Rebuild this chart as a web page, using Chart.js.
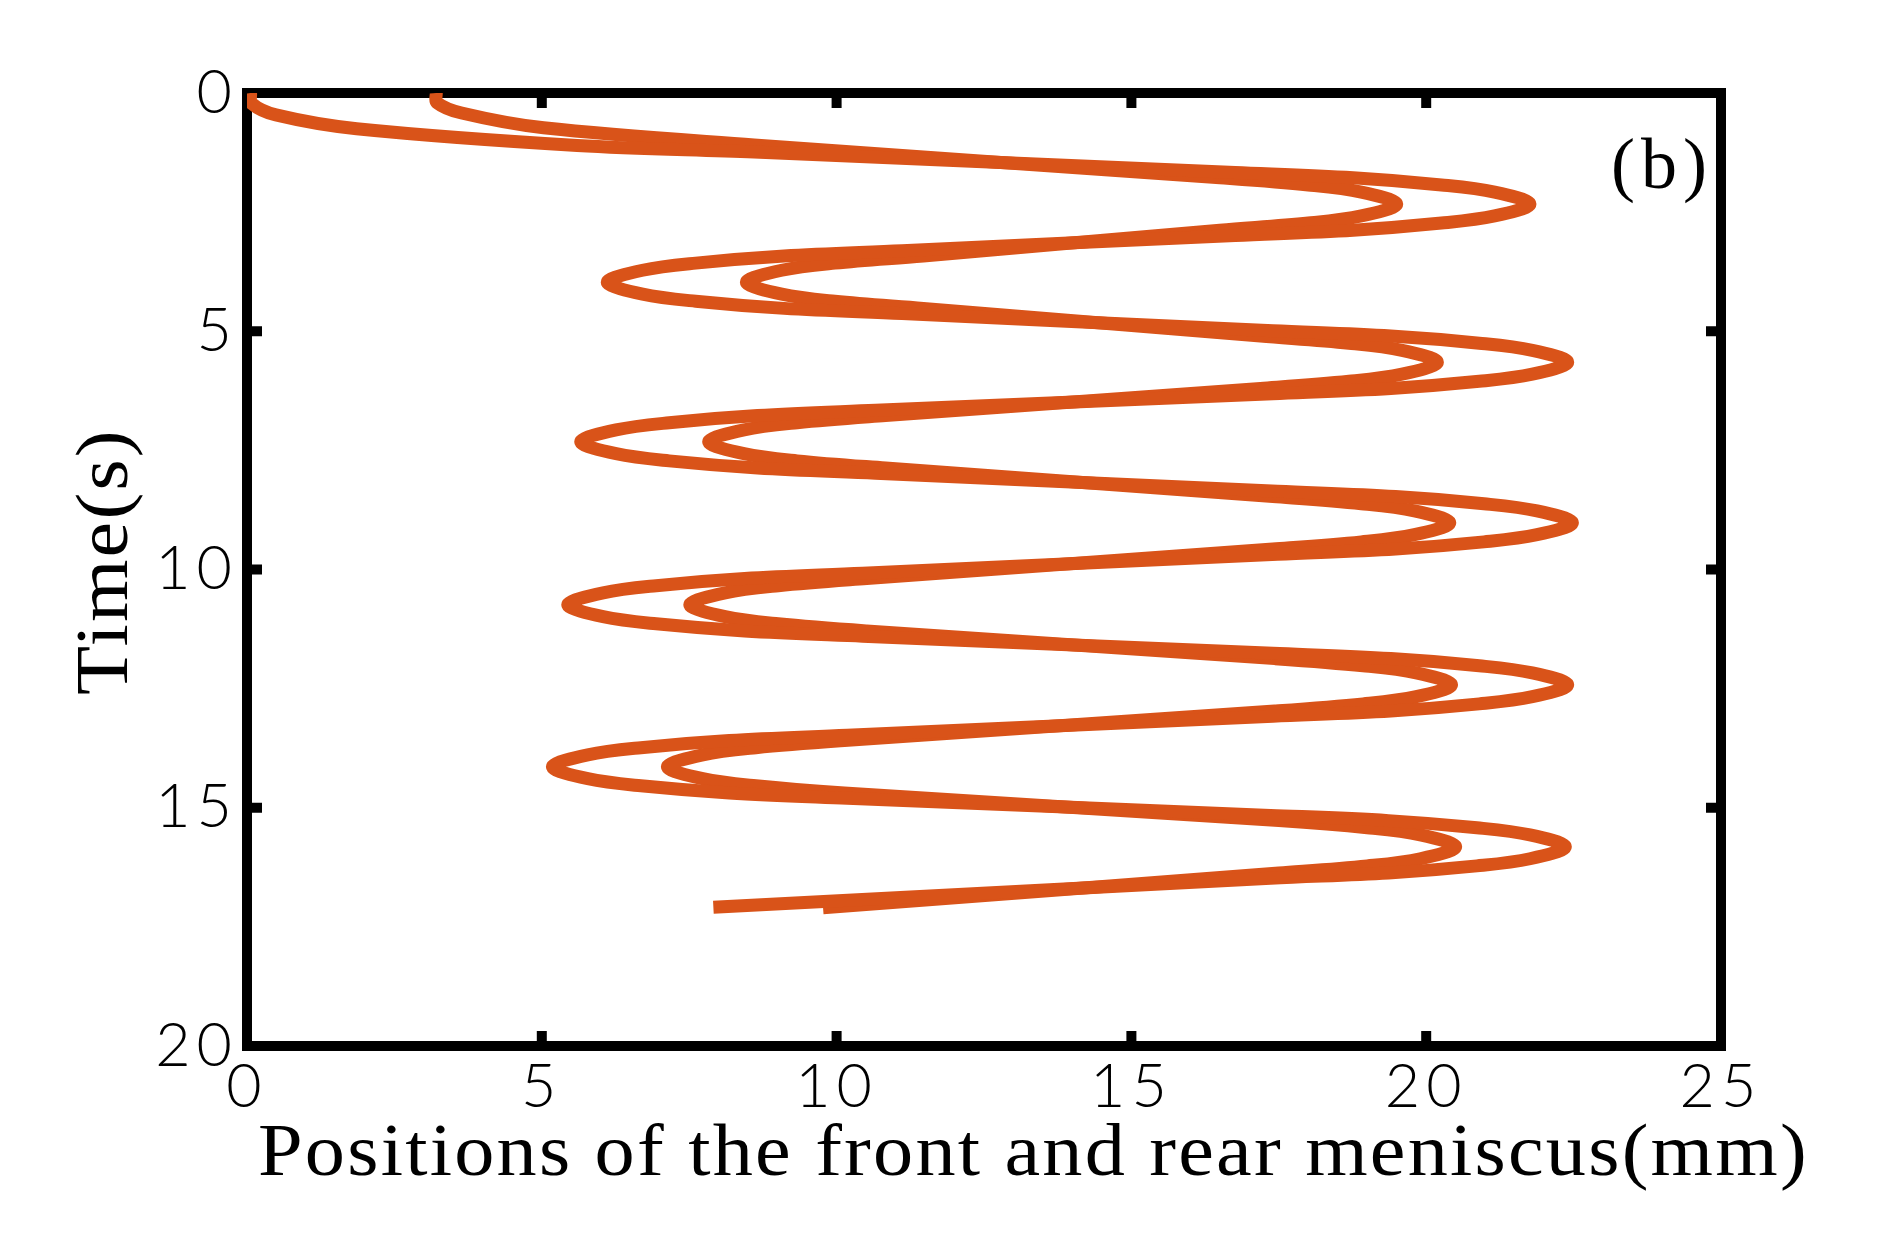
<!DOCTYPE html>
<html>
<head>
<meta charset="utf-8">
<title>Meniscus positions</title>
<script src="https://cdn.jsdelivr.net/npm/chart.js@4.4.1/dist/chart.umd.min.js"></script>
<style>
  html, body { margin: 0; padding: 0; background: #ffffff; }
  #wrap { width: 1900px; height: 1242px; }
</style>
</head>
<body>
<div id="wrap"><canvas id="meniscusChart" width="1900" height="1242"></canvas></div>
<script>
/* Positions of the front and rear meniscus vs time. */

const xTicks = [0, 5, 10, 15, 20, 25];
const yTicks = [0, 5, 10, 15, 20];

// rear meniscus (starts at 0 mm)
const rearX = [0.06, 0.08, 0.49, 1.86, 5.6, 8.6,
  16.76, 18.76, 20.26, 21.16, 21.76, 21.16, 20.26, 18.76, 16.76,
  11.11, 9.11, 7.61, 6.71, 6.11, 6.71, 7.61, 9.11, 11.11,
  17.4, 19.4, 20.9, 21.8, 22.4, 21.8, 20.9, 19.4, 17.4,
  10.66, 8.66, 7.16, 6.26, 5.66, 6.26, 7.16, 8.66, 10.66,
  17.48, 19.48, 20.98, 21.88, 22.48, 21.88, 20.98, 19.48, 17.48,
  10.44, 8.44, 6.94, 6.04, 5.44, 6.04, 6.94, 8.44, 10.44,
  17.4, 19.4, 20.9, 21.8, 22.4, 21.8, 20.9, 19.4, 17.4,
  10.18, 8.18, 6.68, 5.78, 5.18, 5.78, 6.68, 8.18, 10.18,
  17.36, 19.36, 20.86, 21.76, 22.36, 21.76, 20.86, 19.36, 17.36, 7.91];
const rearT = [0.0, 0.22, 0.46, 0.75, 1.1, 1.24,
  1.67, 1.78, 1.93, 2.08, 2.33, 2.58, 2.73, 2.88, 2.99,
  3.31, 3.42, 3.57, 3.72, 3.97, 4.22, 4.37, 4.52, 4.63,
  4.99, 5.1, 5.25, 5.4, 5.65, 5.9, 6.05, 6.2, 6.31,
  6.66, 6.77, 6.92, 7.07, 7.32, 7.57, 7.72, 7.87, 7.98,
  8.36, 8.47, 8.62, 8.77, 9.02, 9.27, 9.42, 9.57, 9.68,
  10.08, 10.19, 10.34, 10.49, 10.74, 10.99, 11.14, 11.29, 11.4,
  11.76, 11.87, 12.02, 12.17, 12.42, 12.67, 12.82, 12.97, 13.08,
  13.48, 13.59, 13.74, 13.89, 14.14, 14.39, 14.54, 14.69, 14.8,
  15.16, 15.27, 15.42, 15.57, 15.82, 16.07, 16.22, 16.37, 16.48, 17.09];

// front meniscus (starts at ~3.2 mm)
const frontX = [3.21, 3.22, 3.64, 5.03, 8.6,
  16.5, 18.0, 18.9, 19.5, 18.9, 18.0, 16.5,
  11.47, 9.97, 9.07, 8.47, 9.07, 9.97, 11.47,
  17.19, 18.69, 19.59, 20.19, 19.59, 18.69, 17.19,
  10.83, 9.33, 8.43, 7.83, 8.43, 9.33, 10.83,
  17.4, 18.9, 19.8, 20.4, 19.8, 18.9, 17.4,
  10.51, 9.01, 8.11, 7.51, 8.11, 9.01, 10.51,
  17.43, 18.93, 19.83, 20.43, 19.83, 18.93, 17.43,
  10.13, 8.63, 7.73, 7.13, 7.73, 8.63, 10.13,
  17.5, 19.0, 19.9, 20.5, 19.9, 19.0, 17.5, 9.77];
const frontT = [0.0, 0.2, 0.42, 0.73, 1.09,
  1.78, 1.93, 2.08, 2.33, 2.58, 2.73, 2.88,
  3.42, 3.57, 3.72, 3.97, 4.22, 4.37, 4.52,
  5.1, 5.25, 5.4, 5.65, 5.9, 6.05, 6.2,
  6.77, 6.92, 7.07, 7.32, 7.57, 7.72, 7.87,
  8.47, 8.62, 8.77, 9.02, 9.27, 9.42, 9.57,
  10.19, 10.34, 10.49, 10.74, 10.99, 11.14, 11.29,
  11.87, 12.02, 12.17, 12.42, 12.67, 12.82, 12.97,
  13.59, 13.74, 13.89, 14.14, 14.39, 14.54, 14.69,
  15.27, 15.42, 15.57, 15.82, 16.07, 16.22, 16.37, 17.1];

const lineColor = "#d95319";
const tickFont = { family: "Lato, 'Liberation Sans', sans-serif", size: 61, weight: 300 };
const serifFamily = "'Liberation Serif', 'DejaVu Serif', serif";

function toPoints(xs, ts) {
  return xs.map((x, i) => ({ x: x, y: ts[i] }));
}

// widened serif text, a bit like the Computer Modern of the original
function drawWideText(ctx, text, x, y, angle) {
  ctx.save();
  ctx.letterSpacing = "2px";
  ctx.translate(x, y);
  ctx.rotate(angle);
  ctx.scale(1.1, 1);
  ctx.fillText(text, 0, 0);
  ctx.restore();
}

// box round the axes, inward tick marks on all four sides, titles
const frameBox = {
  id: "frameBox",
  beforeDraw(chart) {
    chart.ctx.letterSpacing = "6px";
  },
  beforeDatasetsDraw(chart) {
    const { ctx, chartArea: a, scales } = chart;
    ctx.save();
    ctx.strokeStyle = "#000";
    ctx.lineWidth = 10;
    ctx.lineJoin = "miter";
    ctx.strokeRect(a.left, a.top, a.right - a.left, a.bottom - a.top);
    ctx.beginPath();
    xTicks.slice(1, -1).forEach((v) => {
      const px = scales.x.getPixelForValue(v);
      ctx.moveTo(px, a.bottom); ctx.lineTo(px, a.bottom - 15);
      ctx.moveTo(px, a.top); ctx.lineTo(px, a.top + 15);
    });
    yTicks.slice(1, -1).forEach((v) => {
      const py = scales.y.getPixelForValue(v);
      ctx.moveTo(a.left, py); ctx.lineTo(a.left + 15, py);
      ctx.moveTo(a.right, py); ctx.lineTo(a.right - 15, py);
    });
    ctx.stroke();
    ctx.restore();
  },
  afterDraw(chart) {
    const { ctx, chartArea: a } = chart;
    ctx.save();
    ctx.fillStyle = "#000";
    ctx.font = "73px " + serifFamily;
    ctx.textBaseline = "alphabetic";
    ctx.textAlign = "left";
    drawWideText(ctx, "Positions of the front and rear meniscus(mm)", a.left + 11, 1175, 0);
    drawWideText(ctx, "Time(s)", 127, 695, -Math.PI / 2);
    ctx.font = "72px " + serifFamily;
    ctx.fillText("(b)", 1611, 188);
    ctx.restore();
  },
};

new Chart(document.getElementById("meniscusChart"), {
  type: "scatter",
  data: {
    datasets: [
      { label: "Rear meniscus", data: toPoints(rearX, rearT) },
      { label: "Front meniscus", data: toPoints(frontX, frontT) },
    ].map((ds) => ({
      ...ds,
      showLine: true,
      borderColor: lineColor,
      backgroundColor: lineColor,
      borderWidth: 13,
      borderJoinStyle: "round",
      borderCapStyle: "butt",
      tension: 0.35,
      pointRadius: 0,
      pointHoverRadius: 0,
      fill: false,
    })),
  },
  plugins: [frameBox],
  options: {
    responsive: false,
    animation: false,
    devicePixelRatio: 1,
    layout: { padding: { top: 93, right: 179, bottom: 0, left: 0 } },
    plugins: { legend: { display: false }, tooltip: { enabled: false } },
    scales: {
      x: {
        type: "linear",
        position: "bottom",
        min: 0,
        max: 25,
        afterBuildTicks: (scale) => { scale.ticks = xTicks.map((v) => ({ value: v })); },
        afterFit: (scale) => { scale.height = 196; },
        grid: { display: false, drawTicks: false },
        border: { display: false },
        ticks: { color: "#000", font: tickFont, padding: 5, maxRotation: 0 },
      },
      y: {
        type: "linear",
        position: "left",
        min: 0,
        max: 20,
        reverse: true,
        afterBuildTicks: (scale) => { scale.ticks = yTicks.map((v) => ({ value: v })); },
        afterFit: (scale) => { scale.width = 247; },
        grid: { display: false, drawTicks: false },
        border: { display: false },
        ticks: { color: "#000", font: tickFont, padding: 9 },
      },
    },
  },
});
</script>
</body>
</html>
